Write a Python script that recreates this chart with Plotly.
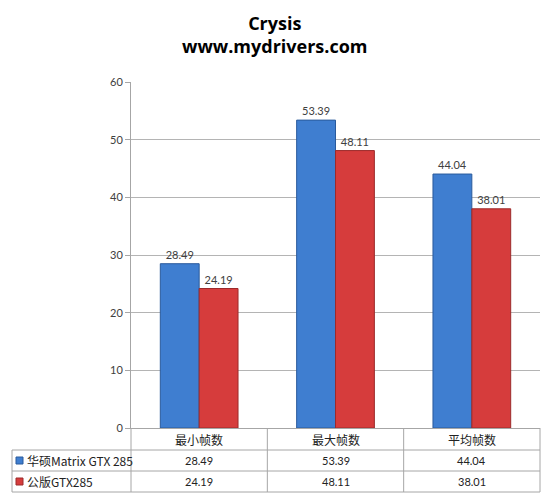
import plotly.graph_objects as go

categories = ["最小帧数", "最大帧数", "平均帧数"]
series_names = ["华硕Matrix GTX 285", "公版GTX285"]
asus_values = [28.49, 53.39, 44.04]
ref_values = [24.19, 48.11, 38.01]
y_ticks = [0, 10, 20, 30, 40, 50, 60]
title_lines = ["Crysis", "www.mydrivers.com"]

W, H = 550, 496
PX_L, PX_R, PX_T, PX_B = 131, 540, 82, 428
ROWS = [428, 450, 471, 492]
TABLE_L = 12

def px(x):
    return x / W

def py(y):
    return 1 - y / H

colors = ["#3f7ed0", "#d63c3c"]
line_colors = ["#2a5a9c", "#9c2a2a"]
all_values = [asus_values, ref_values]

fig = go.Figure()
for name, vals, c, lc in zip(series_names, all_values, colors, line_colors):
    fig.add_trace(go.Bar(
        x=categories, y=vals, name=name,
        marker=dict(color=c, line=dict(color=lc, width=1)),
        text=[f"{v:.2f}" for v in vals], textposition="outside",
        textfont=dict(family="Lato, Noto Sans", size=11, color="#404040"),
        cliponaxis=False, showlegend=False,
    ))

shapes = []
grey = "#a6a6a6"
for y in ROWS[1:]:
    shapes.append(dict(type="line", xref="paper", yref="paper",
                       x0=px(TABLE_L), x1=px(PX_R), y0=py(y), y1=py(y),
                       line=dict(color=grey, width=1)))
ncat = len(categories)
for i in range(ncat + 1):
    xx = PX_L + (PX_R - PX_L) * i / ncat
    shapes.append(dict(type="line", xref="paper", yref="paper",
                       x0=px(xx), x1=px(xx), y0=py(ROWS[0]), y1=py(ROWS[-1]),
                       line=dict(color=grey, width=1)))
shapes.append(dict(type="line", xref="paper", yref="paper",
                   x0=px(TABLE_L), x1=px(TABLE_L), y0=py(ROWS[1]), y1=py(ROWS[-1]),
                   line=dict(color=grey, width=1)))
for r, c in enumerate(colors):
    yc = (ROWS[r + 1] + ROWS[r + 2]) / 2
    shapes.append(dict(type="rect", xref="paper", yref="paper",
                       x0=px(16), x1=px(23), y0=py(yc - 3.5), y1=py(yc + 3.5),
                       fillcolor=c, line=dict(color=line_colors[r], width=1)))

annotations = []
cjk = "Noto Sans CJK SC"
for i, cat in enumerate(categories):
    annotations.append(dict(x=cat, xref="x", y=py((ROWS[0] + ROWS[1]) / 2), yref="paper",
                            yanchor="middle", text=cat, showarrow=False,
                            font=dict(family=cjk, size=12, color="#222222")))
    for r, vals in enumerate(all_values):
        annotations.append(dict(x=cat, xref="x", y=py((ROWS[r + 1] + ROWS[r + 2]) / 2), yref="paper",
                                yanchor="middle", text=f"{vals[i]:.2f}", showarrow=False,
                                font=dict(family="Lato, Noto Sans", size=11, color="#222222")))
for r, name in enumerate(series_names):
    annotations.append(dict(x=px(25), xref="paper", xanchor="left",
                            y=py((ROWS[r + 1] + ROWS[r + 2]) / 2), yref="paper", yanchor="middle",
                            text=name, showarrow=False,
                            font=dict(family=cjk, size=12, color="#222222")))
annotations.append(dict(x=px(275), xref="paper", xanchor="center", y=py(34), yref="paper",
                        yanchor="middle",
                        text="<b>" + "<br>".join(title_lines) + "</b>", showarrow=False,
                        font=dict(family="Open Sans", size=18, color="#000000")))

fig.update_layout(
    width=W, height=H, margin=dict(l=0, r=0, t=0, b=0, autoexpand=False),
    paper_bgcolor="white", plot_bgcolor="white",
    barmode="group", bargap=0.43, bargroupgap=0,
    xaxis=dict(domain=[px(PX_L), px(PX_R)], showticklabels=False, ticks="",
               showline=True, linecolor=grey, showgrid=False, zeroline=False,
               automargin=False),
    yaxis=dict(domain=[py(PX_B), py(PX_T)], range=[0, 60], tickvals=y_ticks,
               ticks="outside", ticklen=5, tickcolor=grey, automargin=False,
               showline=True, linecolor=grey, showgrid=True, gridcolor="#b4b4b4",
               zeroline=False, tickfont=dict(family="Lato, Noto Sans", size=11, color="#404040")),
    shapes=shapes, annotations=annotations,
)
fig.write_html("out.html")
